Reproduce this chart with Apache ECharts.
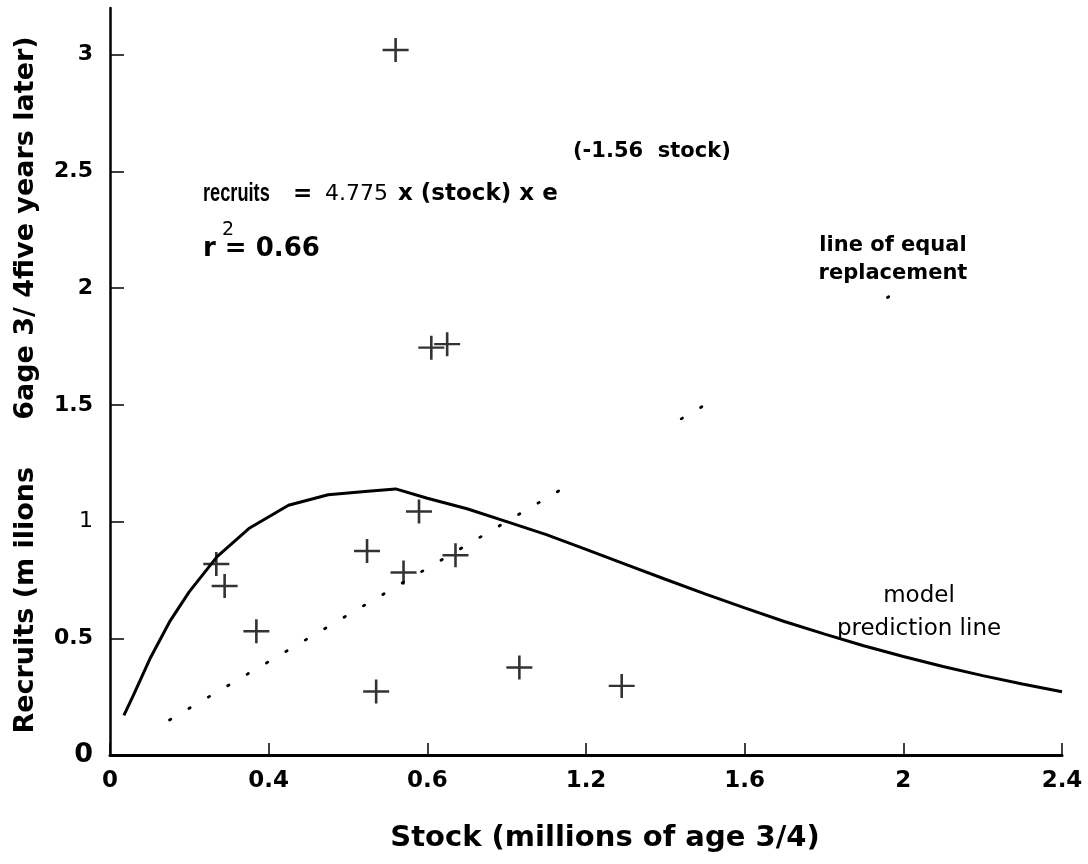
<!DOCTYPE html>
<html>
<head>
<meta charset="utf-8">
<title>Stock and recruitment</title>
<script src="https://cdn.jsdelivr.net/npm/echarts@6/dist/echarts.min.js"></script>
<style>
  html, body { margin: 0; padding: 0; background: #fff; }
  #chart { width: 1088px; height: 864px; }
</style>
</head>
<body>
<div id="chart"></div>
<script>
// Observed stock (x) and recruits five years later (y), millions
const stock    = [0.72, 0.81, 0.85, 0.268, 0.289, 0.369, 0.648, 0.671, 0.740, 0.779, 0.871, 1.032, 1.290];
const recruits = [3.02, 1.745, 1.76, 0.818, 0.724, 0.530, 0.874, 0.272, 0.782, 1.043, 0.856, 0.375, 0.296];

// Fitted model prediction line
const curveStock    = [0.035, 0.06, 0.1, 0.15, 0.2, 0.27, 0.35, 0.45, 0.55, 0.65, 0.72, 0.8, 0.9, 1.0, 1.1, 1.2, 1.3, 1.4, 1.5, 1.6, 1.7, 1.8, 1.9, 2.0, 2.1, 2.2, 2.3, 2.4];
const curveRecruits = [0.17, 0.26, 0.41, 0.57, 0.70, 0.85, 0.97, 1.07, 1.115, 1.13, 1.14, 1.10, 1.055, 1.00, 0.944, 0.881, 0.817, 0.753, 0.690, 0.630, 0.572, 0.519, 0.468, 0.422, 0.379, 0.340, 0.304, 0.271];

// Visible pieces of the dotted line of equal replacement (recruits = stock)
const equalStart = [0.15, 1.44, 1.96];
const equalEnd   = [1.16, 1.51, 1.98];

// Axis tick labels
const xTickLabels = ['0', '0.4', '0.6', '1.2', '1.6', '2', '2.4'];
const yTickLabels = ['0', '0.5', '1', '1.5', '2', '2.5', '3'];

const WIDE = "'DejaVu Sans', Verdana, sans-serif";
const ARIAL = "'Liberation Sans', Arial, Helvetica, sans-serif";

const chart = echarts.init(document.getElementById('chart'), null, { renderer: 'canvas' });

// plus-shaped marker for observations
const crossPath = 'path://M0,10.8L24,10.8L24,13.2L0,13.2ZM10.8,0L13.2,0L13.2,24L10.8,24Z';

const equalSeries = equalStart.map((s, i) => ({
  type: 'line',
  data: [[s, s], [equalEnd[i], equalEnd[i]]],
  symbol: 'none',
  silent: true,
  lineStyle: { color: '#000', width: 2.8, type: [1.5, 21], cap: 'round' },
  z: 2
}));

function label(text, x, y, font, size, weight, extra) {
  return Object.assign({
    type: 'text', x: x, y: y, silent: true,
    style: Object.assign({
      text: text, fontFamily: font, fontSize: size, fontWeight: weight,
      fill: '#000', align: 'left', verticalAlign: 'middle'
    }, (extra && extra.style) || {})
  }, (extra && extra.el) || {});
}

const option = {
  animation: false,
  backgroundColor: '#fff',
  grid: { left: 110, right: 26, top: 8, bottom: 109, containLabel: false },
  xAxis: {
    type: 'value',
    min: 0, max: 2.4, interval: 0.4,
    axisLine: { show: true, onZero: false, lineStyle: { color: '#000', width: 3 } },
    axisTick: { show: true, inside: true, length: 12, lineStyle: { color: '#000', width: 1.5 } },
    axisLabel: {
      margin: 15,
      fontFamily: WIDE, fontWeight: 'bold', fontSize: 23, color: '#000',
      formatter: v => xTickLabels[Math.round(v / 0.4)] || ''
    },
    splitLine: { show: false }
  },
  yAxis: {
    type: 'value',
    min: 0, max: 3.2, interval: 0.5,
    axisLine: { show: true, onZero: false, lineStyle: { color: '#000', width: 2.5 } },
    axisTick: { show: true, inside: true, length: 14, lineStyle: { color: '#000', width: 1.5 } },
    axisLabel: {
      margin: 17,
      showMaxLabel: false,
      fontFamily: WIDE, fontWeight: 'bold', fontSize: 22, color: '#000',
      formatter: v => {
        const i = Math.round(v / 0.5);
        if (Math.abs(v - i * 0.5) > 1e-6) return '';
        const t = yTickLabels[i];
        if (t === undefined) return '';
        if (t === '0') return '{z|0}';
        if (t === '1') return '{n|1}';
        return t;
      },
      rich: {
        z: { fontFamily: WIDE, fontWeight: 'bold', fontSize: 27, color: '#000' },
        n: { fontFamily: WIDE, fontWeight: 'normal', fontSize: 22, color: '#000' }
      }
    },
    splitLine: { show: false }
  },
  series: [
    {
      type: 'line',
      name: 'model prediction line',
      data: curveStock.map((s, i) => [s, curveRecruits[i]]),
      symbol: 'none',
      smooth: false,
      silent: true,
      lineStyle: { color: '#000', width: 3 },
      z: 3
    },
    ...equalSeries,
    {
      type: 'scatter',
      name: 'observed',
      data: stock.map((s, i) => [s, recruits[i]]),
      symbol: crossPath,
      symbolSize: [26, 24],
      symbolKeepAspect: false,
      itemStyle: { color: '#000' },
      silent: true,
      z: 4
    }
  ],
  graphic: [
    // axis titles
    label('Stock (millions of age 3/4)', 605, 838, WIDE, 29, 'bold',
      { style: { align: 'center' } }),
    label('Recruits (m ilions     6age 3/ 4five years later)', 26, 385, WIDE, 27, 'bold',
      { el: { rotation: Math.PI / 2 }, style: { align: 'center' } }),
    // model equation
    label('recruits', 203, 194, ARIAL, 26, 'bold', { el: { scaleX: 0.7 } }),
    label('=', 293, 194, WIDE, 23, 'bold'),
    label('4.775', 325, 194, WIDE, 22, 'normal'),
    label('x (stock) x e', 398, 194, WIDE, 23, 'bold'),
    label('(-1.56  stock)', 573, 152, WIDE, 21, 'bold'),
    label('2', 222, 230, WIDE, 19, 'normal'),
    label('r = 0.66', 203, 249, WIDE, 26, 'bold'),
    // series annotations
    label('line of equal\nreplacement', 893, 260, WIDE, 21, 'bold',
      { style: { align: 'center', lineHeight: 28 } }),
    label('model\nprediction line', 919, 613, WIDE, 23, 'normal',
      { style: { align: 'center', lineHeight: 33 } })
  ]
};

chart.setOption(option);
</script>
</body>
</html>
